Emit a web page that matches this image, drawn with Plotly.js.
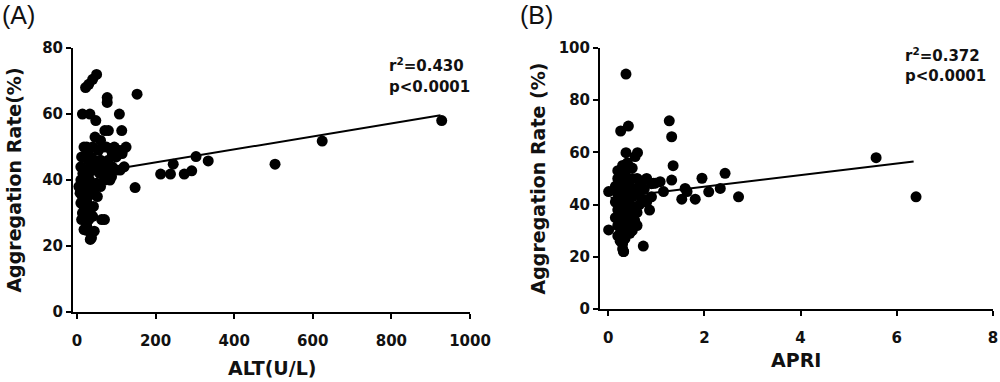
<!DOCTYPE html>
<html>
<head>
<meta charset="utf-8">
<script src="https://cdn.plot.ly/plotly-3.0.1.min.js"></script>
<style>html,body{margin:0;padding:0;background:#fff;}#chart{width:1000px;height:382px;}</style>
</head>
<body>
<div id="chart"></div>
<script>
// Panel A: ALT (U/L) vs aggregation rate (%)
const altA = [928,624,504,334,303,292,273,245,238,213,148,153,
  50,40,30,22,77,77,14,33,48,108,71,80,114,46,60,125,116,
  18,25,32,40,55,65,75,85,95,105,115,90,100,
  12,20,28,36,44,52,60,70,80,90,100,110,120,
  10,15,22,30,38,48,58,68,78,88,
  10,16,24,32,40,50,60,70,84,
  8,14,20,28,36,44,52,5,
  10,18,26,34,42,14,22,
  12,20,30,40,63,70,
  18,25,35,44,23,
  34,37];
const rateA = [58,51.8,44.8,45.8,47.1,42.8,41.8,44.8,41.8,41.8,37.7,66,
  72,70.5,69,68,65,63.5,60,60,58,60,55,55,55,53,52,50,49,
  50,50,49.5,50,49,50,50,49.5,50,49,48,48,47,
  47,47,46,47,46,45,46,45,46,44,43,43,44,
  44,42,43,42,44,43,42,43,42,41,
  40,39,38,40,38,39,38,40,40,
  36,35,36,35,36,37,35,38,
  33,32,33,31,32,30,31,
  28,29,28,29,28,28,
  25,26,24,24.5,24.8,
  22,22.5];
const fitAx = [10, 925];
const fitAy = [41.6, 59.6];

// Panel B: APRI vs aggregation rate (%)
const apriB = [0.37,0.26,0.42,0.37,0.61,0.56,1.27,1.32,1.35,1.32,1.95,2.43,2.33,2.09,2.71,1.81,1.53,5.57,6.40,0.73,0.32,0.01,0.01,1.15,1.08,0.94,0.86,0.80,1.64,1.60,0.98,0.90,
  0.2,0.25,0.3,0.4,0.5,0.35,
  0.2,0.3,0.4,0.5,0.6,0.7,0.8,0.9,
  0.15,0.25,0.35,0.45,0.55,0.65,0.75,
  0.2,0.3,0.4,0.5,0.6,0.7,0.8,
  0.15,0.25,0.35,0.45,0.55,0.65,
  0.2,0.3,0.4,0.5,0.6,
  0.15,0.25,0.35,0.45,0.55,
  0.2,0.3,0.4,0.5,0.6,
  0.25,0.35,0.45,0.2,
  0.25,0.3,0.35,
  0.3,0.32];
const rateB = [90,68.2,70.1,59.9,59.9,58.4,72.1,66,54.9,49.4,50.1,52,46.2,44.9,43,42.1,42.1,58,43,24.1,22,30.3,45,45,48.8,48.2,37.9,41.8,45,46.2,48.2,43,
  53,51,55,56,54,52,
  50,50,49,50,50,49,50,48,
  47,47,46,47,46,47,46,
  44,43,44,43,44,42,41,
  41,40,41,40,39,40,
  38,37,38,36,37,
  35,34,35,33,34,
  32,31,32,30,32,
  29,28,29,28,
  26,25,27,
  23,22];
const fitBx = [0.05, 6.35];
const fitBy = [42.5, 56.5];

const xTicksA = [0,200,400,600,800,1000];
const yTicksA = [0,20,40,60,80];
const xTicksB = [0,2,4,6,8];
const yTicksB = [0,20,40,60,80,100];

const tickFont = {family: 'DejaVu Sans', size: 15, color: '#111', weight: 'bold'};
const titleFont = {family: 'DejaVu Sans', size: 19, color: '#111', weight: 'bold'};
const statFont = {family: 'DejaVu Sans', size: 15, color: '#111', weight: 'bold'};
const marker = {color: '#000', size: 11, line: {width: 0}};

const axisCommon = {
  showgrid: false, zeroline: false, showline: true, linecolor: '#000', linewidth: 2,
  ticks: 'outside', ticklen: 5, tickwidth: 2, tickcolor: '#000', tickfont: tickFont,
  fixedrange: true
};

const data = [
  {x: altA, y: rateA, type: 'scatter', mode: 'markers', marker: marker, xaxis: 'x', yaxis: 'y', hoverinfo: 'skip'},
  {x: fitAx, y: fitAy, type: 'scatter', mode: 'lines', line: {color: '#000', width: 2}, xaxis: 'x', yaxis: 'y'},
  {x: apriB, y: rateB, type: 'scatter', mode: 'markers', marker: marker, xaxis: 'x2', yaxis: 'y2', hoverinfo: 'skip'},
  {x: fitBx, y: fitBy, type: 'scatter', mode: 'lines', line: {color: '#000', width: 2}, xaxis: 'x2', yaxis: 'y2'}
];

function ann(x, y, text, font, xanchor) {
  return {xref: 'paper', yref: 'paper', x: x / 1000, y: 1 - y / 382, xanchor: xanchor || 'left', yanchor: 'middle',
    showarrow: false, text: text, font: font};
}

const layout = {
  width: 1000, height: 382,
  margin: {l: 0, r: 0, t: 0, b: 0},
  paper_bgcolor: '#fff', plot_bgcolor: 'rgba(0,0,0,0)',
  showlegend: false,
  xaxis: Object.assign({}, axisCommon, {domain: [0.073, 0.470], range: [-10, 1000], tickvals: xTicksA, anchor: 'y', ticklabelstandoff: 9}),
  yaxis: Object.assign({}, axisCommon, {domain: [0.1832, 0.8743], range: [0, 80], tickvals: yTicksA, anchor: 'x',
    title: {text: 'Aggregation Rate(%)', font: titleFont, standoff: 15}}),
  xaxis2: Object.assign({}, axisCommon, {domain: [0.600, 0.993], range: [-0.17, 8], tickvals: xTicksB, anchor: 'y2', ticklabelstandoff: 9}),
  yaxis2: Object.assign({}, axisCommon, {domain: [0.1911, 0.8743], range: [0, 100], tickvals: yTicksB, anchor: 'x2',
    title: {text: 'Aggregation Rate (%)', font: titleFont, standoff: 8}}),
  annotations: [
    ann(0, 15, '(A)', {family: 'Liberation Sans', size: 25, color: '#111'}),
    ann(518, 15, '(B)', {family: 'Liberation Sans', size: 25, color: '#111'}),
    ann(272, 368, 'ALT(U/L)', titleFont, 'center'),
    ann(796, 360, 'APRI', titleFont, 'center'),
    ann(387, 65, 'r<sup>2</sup>=0.430', statFont),
    ann(387, 87, 'p&lt;0.0001', statFont),
    ann(903, 55, 'r<sup>2</sup>=0.372', statFont),
    ann(903, 76, 'p&lt;0.0001', statFont)
  ]
};

Plotly.newPlot('chart', data, layout, {displayModeBar: false, staticPlot: true});
</script>
</body>
</html>
